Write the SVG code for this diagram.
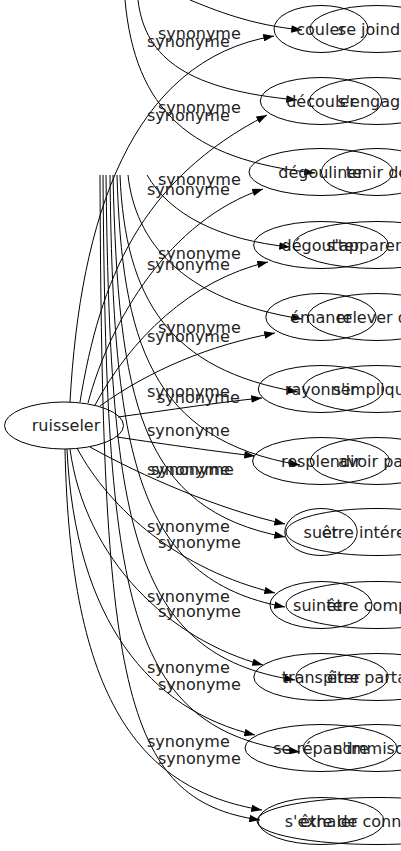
<svg xmlns="http://www.w3.org/2000/svg" width="401" height="851" viewBox="0 0 401 851">
<defs>
<marker id="a" viewBox="0 0 10 7" refX="10" refY="3.5" markerWidth="11" markerHeight="7.5" markerUnits="userSpaceOnUse" orient="auto"><path d="M0,0L10,3.5L0,7z" fill="#000"/></marker>
<style>
.n ellipse{fill:none;stroke:#000;stroke-width:1}
text{font-family:"DejaVu Sans",sans-serif;font-size:16px;fill:#222}
.n text{text-anchor:middle}
#edges path{fill:none;stroke:#000;stroke-width:1;marker-end:url(#a)}
</style>
</defs>
<rect width="401" height="851" fill="#fff"/>
<g id="edges">
<path d="M70,402 C80,220 130,60 274,36"/>
<path d="M80,402 C100,280 140,180 267,115"/>
<path d="M88,403 C110,320 170,220 263,189"/>
<path d="M95,405 C130,340 190,280 268,262"/>
<path d="M100,406 C150,370 210,345 275,333"/>
<path d="M118,417 C170,410 220,402 262,398"/>
<path d="M117,437 C170,445 220,452 255,456"/>
<path d="M90,447 C140,475 220,510 285,524"/>
<path d="M77,448 C110,510 180,570 275,593"/>
<path d="M70,449 C85,560 170,640 263,665"/>
<path d="M67,449 C75,620 150,710 255,735"/>
<path d="M65,449 C70,700 140,790 262,810"/>
<path d="M190,0 C215,10 250,25 302,30"/>
<path d="M138,0 C145,60 190,90 297,100"/>
<path d="M125,0 C135,110 190,160 315,173"/>
<path d="M147,175 C170,215 220,240 290,247"/>
<path d="M128,175 C135,240 180,300 302,319"/>
<path d="M120,175 C125,300 170,370 298,392"/>
<path d="M117,175 C122,340 150,440 300,465"/>
<path d="M113,175 C118,400 140,510 285,537"/>
<path d="M110,175 C113,450 135,580 285,607"/>
<path d="M106,175 C110,520 130,655 295,680"/>
<path d="M103,175 C106,600 125,730 300,752"/>
<path d="M100,175 C102,680 120,800 260,820"/>
<text x="158" y="39">synonyme</text><text x="147" y="47">synonyme</text>
<text x="158" y="113">synonyme</text><text x="147" y="121">synonyme</text>
<text x="158" y="185">synonyme</text><text x="147" y="195">synonyme</text>
<text x="158" y="259">synonyme</text><text x="147" y="270">synonyme</text>
<text x="158" y="333">synonyme</text><text x="147" y="342">synonyme</text>
<text x="147" y="397">synonyme</text><text x="157" y="403">synonyme</text>
<text x="147" y="436">synonyme</text>
<text x="147" y="475">synonyme</text><text x="151" y="475">synonyme</text>
<text x="147" y="532">synonyme</text><text x="158" y="548">synonyme</text>
<text x="147" y="602">synonyme</text><text x="158" y="617">synonyme</text>
<text x="147" y="673">synonyme</text><text x="158" y="690">synonyme</text>
<text x="147" y="747">synonyme</text><text x="158" y="764">synonyme</text>
</g>
<g id="ruisseler" class="n"><ellipse cx="64" cy="425.5" rx="59.5" ry="23.5"/><text x="66" y="431">ruisseler</text></g>
<g id="couler" class="n"><ellipse cx="321" cy="29" rx="47" ry="23.5"/><text x="321" y="34.5">couler</text></g>
<g id="decouler" class="n"><ellipse cx="321" cy="101" rx="60.7" ry="23.5"/><text x="321" y="106.5">découler</text></g>
<g id="degouliner" class="n"><ellipse cx="321" cy="172" rx="72" ry="23.5"/><text x="321" y="177.5">dégouliner</text></g>
<g id="degoutter" class="n"><ellipse cx="321" cy="245" rx="67.4" ry="23.5"/><text x="321" y="250.5">dégoutter</text></g>
<g id="emaner" class="n"><ellipse cx="321" cy="317" rx="55.2" ry="23.5"/><text x="321" y="322.5">émaner</text></g>
<g id="rayonner" class="n"><ellipse cx="321" cy="389" rx="62.7" ry="23.5"/><text x="321" y="394.5">rayonner</text></g>
<g id="resplendir" class="n"><ellipse cx="321" cy="461" rx="68.4" ry="23.5"/><text x="321" y="466.5">resplendir</text></g>
<g id="suer" class="n"><ellipse cx="321" cy="532" rx="36.2" ry="23.5"/><text x="321" y="537.5">suer</text></g>
<g id="suinter" class="n"><ellipse cx="321" cy="605" rx="51" ry="23.5"/><text x="321" y="610.5">suinter</text></g>
<g id="transpirer" class="n"><ellipse cx="321" cy="677" rx="67.2" ry="23.5"/><text x="321" y="682.5">transpirer</text></g>
<g id="se-repandre" class="n"><ellipse cx="321" cy="748" rx="76" ry="23.5"/><text x="321" y="753.5">se répandre</text></g>
<g id="s-exhaler" class="n"><ellipse cx="321" cy="821" rx="63" ry="23.5"/><text x="321" y="826.5">s'exhaler</text></g>
<g id="se-joindre" class="n"><ellipse cx="377" cy="29" rx="67.1" ry="23.5"/><text x="377" y="34.5">se joindre</text></g>
<g id="s-engager" class="n"><ellipse cx="377" cy="101" rx="67.5" ry="23.5"/><text x="377" y="106.5">s'engager</text></g>
<g id="tenir-de" class="n"><ellipse cx="377" cy="172" rx="55.6" ry="23.5"/><text x="377" y="177.5">tenir de</text></g>
<g id="s-apparenter" class="n"><ellipse cx="377" cy="245" rx="83.6" ry="23.5"/><text x="377" y="250.5">s'apparenter</text></g>
<g id="relever-de" class="n"><ellipse cx="377" cy="317" rx="69.3" ry="23.5"/><text x="377" y="322.5">relever de</text></g>
<g id="s-impliquer" class="n"><ellipse cx="377" cy="389" rx="74.1" ry="23.5"/><text x="377" y="394.5">s'impliquer</text></g>
<g id="avoir-part" class="n"><ellipse cx="377" cy="461" rx="66.6" ry="23.5"/><text x="377" y="466.5">avoir part</text></g>
<g id="etre-interesse" class="n"><ellipse cx="377" cy="532" rx="91" ry="23.5"/><text x="377" y="537.5">être intéressé</text></g>
<g id="etre-compris" class="n"><ellipse cx="377" cy="605" rx="91" ry="23.5"/><text x="377" y="610.5">être compris</text></g>
<g id="etre-partage" class="n"><ellipse cx="377" cy="677" rx="81" ry="23.5"/><text x="377" y="682.5">être partagé</text></g>
<g id="s-immiscer" class="n"><ellipse cx="377" cy="748" rx="74" ry="23.5"/><text x="377" y="753.5">s'immiscer</text></g>
<g id="etre-de-connivence" class="n"><ellipse cx="377" cy="821" rx="120" ry="23.5"/><text x="377" y="826.5">être de connivence</text></g>
</svg>
